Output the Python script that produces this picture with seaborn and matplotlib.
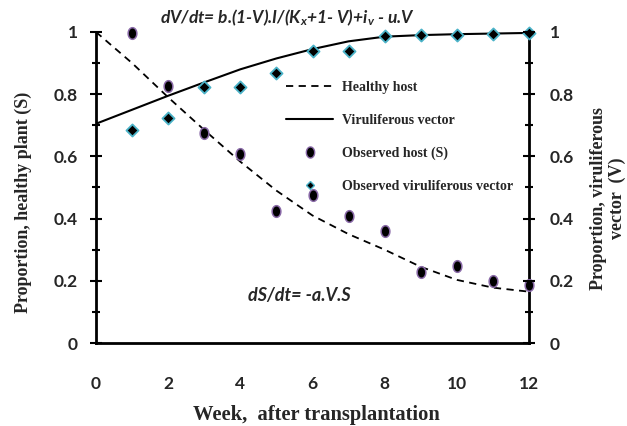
import numpy as np
import pandas as pd
import matplotlib
matplotlib.use("Agg")
import matplotlib.pyplot as plt
from matplotlib.lines import Line2D
from matplotlib.path import Path
from matplotlib.ticker import MultipleLocator
import seaborn as sns

# ---- data ----
weeks_model = [0, 1, 2, 3, 4, 5, 6, 7, 8, 9, 10, 11, 12]
healthy_model = [1.0, 0.90, 0.79, 0.685, 0.583, 0.49, 0.41, 0.35, 0.30, 0.245, 0.203, 0.178, 0.165]
vector_model = [0.705, 0.75, 0.795, 0.838, 0.88, 0.915, 0.945, 0.97, 0.985, 0.99, 0.993, 0.995, 0.997]

weeks_obs = [1, 2, 3, 4, 5, 6, 7, 8, 9, 10, 11, 12]
host_obs = [0.998, 0.827, 0.674, 0.607, 0.425, 0.476, 0.408, 0.359, 0.227, 0.248, 0.20, 0.186]
vector_obs = [0.684, 0.724, 0.824, 0.824, 0.867, 0.939, 0.939, 0.988, 0.99, 0.99, 0.992, 0.996]

x_ticks = [0, 2, 4, 6, 8, 10, 12]
y_ticks = [0, 0.2, 0.4, 0.6, 0.8, 1.0]
y_tick_labels = ["0", "0.2", "0.4", "0.6", "0.8", "1"]

model_df = pd.DataFrame({"week": weeks_model, "S": healthy_model, "V": vector_model})
obs_df = pd.DataFrame({"week": weeks_obs, "S": host_obs, "V": vector_obs})

sns.set_style("white")
plt.rcParams["mathtext.fontset"] = "custom"
plt.rcParams["mathtext.it"] = "Lato:italic:bold"
plt.rcParams["mathtext.rm"] = "Lato:bold"

# vertically elongated ellipse marker
_t = np.linspace(0, 2 * np.pi, 40)
ellipse = Path(np.column_stack([0.75 * np.cos(_t), np.sin(_t)]), closed=True)

HOST_EDGE = "#8a6aa8"
VEC_EDGE = "#4bb3c8"

W, H = 627, 426
fig = plt.figure(figsize=(W / 100, H / 100), dpi=100)
ax = fig.add_axes([96 / W, 1 - 343 / H, (529 - 96) / W, (343 - 32) / H])

sns.lineplot(data=model_df, x="week", y="S", ax=ax, color="black", lw=1.3,
             linestyle=(0, (4, 3)), legend=False)
sns.lineplot(data=model_df, x="week", y="V", ax=ax, color="black", lw=1.5, legend=False)
sns.scatterplot(data=obs_df, x="week", y="S", ax=ax, marker=ellipse, s=70,
                color="black", edgecolor=HOST_EDGE, linewidth=1.1, clip_on=False, zorder=5)
sns.scatterplot(data=obs_df, x="week", y="V", ax=ax, marker="D", s=38,
                color="black", edgecolor=VEC_EDGE, linewidth=1.3, clip_on=False, zorder=5)

ax.set_xlim(0, 12)
ax.set_ylim(0, 1)
for s in ["left", "bottom", "right"]:
    ax.spines[s].set_visible(True)
    ax.spines[s].set_color("black")
    ax.spines[s].set_linewidth(2)
ax.spines["top"].set_visible(False)

ax.set_xticks(x_ticks)
ax.xaxis.set_minor_locator(MultipleLocator(1))
ax.set_yticks(y_ticks)
ax.set_yticklabels(y_tick_labels)
ax.yaxis.set_minor_locator(MultipleLocator(0.1))

TICK_FS = 12.5
ax.tick_params(axis="both", which="both", direction="inout", color="black", width=1.5)
ax.tick_params(axis="both", which="major", length=8)
ax.tick_params(axis="both", which="minor", length=6)
ax.tick_params(axis="x", pad=20)
ax.tick_params(axis="y", pad=9)
for lab in ax.get_xticklabels() + ax.get_yticklabels():
    lab.set_fontfamily("Lato")
    lab.set_fontweight("bold")
    lab.set_fontsize(TICK_FS)

ax2 = ax.twinx()
ax2.set_ylim(0, 1)
ax2.set_yticks(y_ticks)
ax2.set_yticklabels(y_tick_labels)
ax2.yaxis.set_minor_locator(MultipleLocator(0.1))
ax2.tick_params(axis="y", which="both", direction="inout", color="black", width=1.5, pad=11)
ax2.tick_params(axis="y", which="major", length=8)
ax2.tick_params(axis="y", which="minor", length=6)
for s in ["left", "bottom", "right", "top"]:
    ax2.spines[s].set_visible(False)
for lab in ax2.get_yticklabels():
    lab.set_fontfamily("Lato")
    lab.set_fontweight("bold")
    lab.set_fontsize(TICK_FS)

ax.set_xlabel("")
ax.set_ylabel("")
ax2.set_ylabel("")

serif = "Liberation Serif"
fig.text(316 / W, 1 - 415 / H, "Week,  after transplantation", ha="center", va="center",
         family=serif, weight="bold", fontsize=14.8)
fig.text(23 / W, 1 - 202 / H, "Proportion, healthy plant (S)", ha="center", va="center",
         rotation=90, family=serif, weight="bold", fontsize=13)
fig.text(608 / W, 1 - 198 / H, "Proportion, viruliferous\nvector  (V)", ha="center", va="center",
         rotation=90, family=serif, weight="bold", fontsize=13, linespacing=1.2,
         multialignment="center")

fig.text(160 / W, 1 - 18 / H, r"dV/dt= b.(1-V).I/(K$_x$+1- V)+i$_v$ - u.V", ha="left", va="center",
         family="Lato", style="italic", weight="bold", fontsize=12.5)
fig.text(248 / W, 1 - 295 / H, "dS/dt= -a.V.S", ha="left", va="center",
         family="Lato", style="italic", weight="bold", fontsize=13)

handles = [
    Line2D([], [], color="black", lw=1.3, linestyle=(0, (4, 3))),
    Line2D([], [], color="black", lw=1.5),
    Line2D([], [], color="black", marker=ellipse, markersize=8, markeredgecolor=HOST_EDGE,
           markeredgewidth=1.0, linestyle="none"),
    Line2D([], [], color="black", marker="D", markersize=4, markeredgecolor=VEC_EDGE,
           markeredgewidth=1.0, linestyle="none"),
]
labels = ["Healthy host", "Viruliferous vector", "Observed host (S)", "Observed viruliferous vector"]
fig.legend(handles, labels, loc="upper left", bbox_to_anchor=(286 / W, 1 - 81 / H),
           frameon=False, prop=dict(family=serif, weight="bold", size=10),
           handlelength=3.4, handletextpad=0.6, labelspacing=1.42, borderpad=0, borderaxespad=0)

fig.savefig("out.png", dpi=100)
